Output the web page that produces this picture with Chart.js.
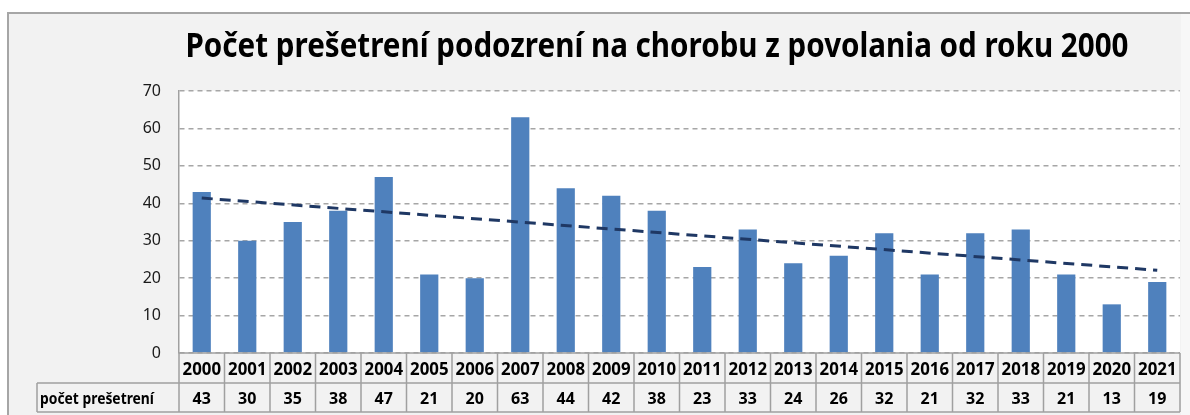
<!DOCTYPE html>
<html>
<head>
<meta charset="utf-8">
<script src="https://cdn.jsdelivr.net/npm/chart.js@4"></script>
<style>
  html, body { margin: 0; padding: 0; background: #ffffff; }
  #wrap { width: 1190px; height: 415px; position: relative; }
</style>
</head>
<body>
<div id="wrap"><canvas id="c" width="1190" height="415"></canvas></div>
<script>
const titleText = 'Počet prešetrení podozrení na chorobu z povolania od roku 2000';
const rowLabel = 'počet prešetrení';
const years = ['2000','2001','2002','2003','2004','2005','2006','2007','2008','2009','2010',
               '2011','2012','2013','2014','2015','2016','2017','2018','2019','2020','2021'];
const counts = [43,30,35,38,47,21,20,63,44,42,38,23,33,24,26,32,21,32,33,21,13,19];
// trend line end points (straight dashed line)
const trend = [41.4,null,null,null,null,null,null,null,null,null,null,
               null,null,null,null,null,null,null,null,null,null,22.1];
const yTicks = [0,10,20,30,40,50,60,70];

const FONT = "'Noto Sans', 'Liberation Sans', sans-serif";

const framePlugin = {
  id: 'frame',
  beforeDraw(chart) {
    const ctx = chart.ctx;
    const ca = chart.chartArea;
    ctx.save();
    ctx.fillStyle = '#ffffff';
    ctx.fillRect(0, 0, chart.width, chart.height);
    ctx.fillStyle = '#f2f2f2';
    ctx.fillRect(8, 13, 1173, chart.height - 13);
    ctx.fillStyle = '#f7f7f7';
    ctx.fillRect(1181, 13, chart.width - 1181, chart.height - 13);
    ctx.strokeStyle = '#a6a6a6';
    ctx.lineWidth = 2;
    ctx.beginPath();
    ctx.moveTo(8, chart.height);
    ctx.lineTo(8, 13);
    ctx.lineTo(chart.width, 13);
    ctx.stroke();
    // plot background
    ctx.fillStyle = '#ffffff';
    ctx.fillRect(ca.left, ca.top, ca.right - ca.left, ca.bottom - ca.top);
    // title
    ctx.fillStyle = '#000000';
    ctx.font = 'bold 34px ' + FONT;
    ctx.textAlign = 'center';
    ctx.textBaseline = 'alphabetic';
    ctx.fillText(titleText, 657, 57, 943);
    ctx.restore();
  },
  afterDraw(chart) {
    const ctx = chart.ctx;
    const ca = chart.chartArea;
    const xs = chart.scales.x;
    const n = years.length;
    const w = (ca.right - ca.left) / n;
    const top = ca.bottom;
    const mid = ca.bottom + 30;
    const bot = ca.bottom + 59;
    const labelLeft = 37;
    ctx.save();
    ctx.strokeStyle = '#a0a0a0';
    ctx.lineWidth = 1.5;
    ctx.beginPath();
    // horizontal lines
    ctx.moveTo(ca.left, top); ctx.lineTo(ca.right, top);
    ctx.moveTo(labelLeft, mid); ctx.lineTo(ca.right, mid);
    ctx.moveTo(labelLeft, bot); ctx.lineTo(ca.right, bot);
    // vertical lines
    for (let i = 0; i <= n; i++) {
      const x = ca.left + i * w;
      ctx.moveTo(x, top); ctx.lineTo(x, bot);
    }
    ctx.moveTo(labelLeft, mid); ctx.lineTo(labelLeft, bot);
    ctx.stroke();

    ctx.fillStyle = '#000000';
    ctx.textAlign = 'center';
    ctx.textBaseline = 'alphabetic';
    for (let i = 0; i < n; i++) {
      const cx = xs.getPixelForValue(i);
      ctx.font = 'bold 18px ' + FONT;
      ctx.fillText(years[i], cx, top + 22, w - 7);
      ctx.font = 'bold 16px ' + FONT;
      ctx.fillText(String(counts[i]), cx, mid + 21, w - 7);
    }
    ctx.textAlign = 'left';
    ctx.font = 'bold 16px ' + FONT;
    ctx.fillText(rowLabel, 40, mid + 21, 114);
    ctx.restore();
  }
};

new Chart(document.getElementById('c'), {
  type: 'bar',
  data: {
    labels: years,
    datasets: [
      {
        type: 'line',
        label: 'trend',
        data: trend,
        spanGaps: true,
        borderColor: '#1f3864',
        borderWidth: 3,
        borderDash: [11, 7],
        pointRadius: 0,
        fill: false,
        order: 0
      },
      {
        type: 'bar',
        label: rowLabel,
        data: counts,
        backgroundColor: '#4f81bd',
        borderColor: '#6a96cc',
        borderWidth: 0,
        barPercentage: 0.4,
        categoryPercentage: 1.0,
        order: 1
      }
    ]
  },
  options: {
    responsive: false,
    animation: false,
    devicePixelRatio: 1,
    layout: { padding: { left: 0, right: 10, top: 91, bottom: 62 } },
    plugins: {
      legend: { display: false },
      title: { display: false },
      tooltip: { enabled: false }
    },
    scales: {
      x: {
        type: 'category',
        display: false,
        offset: true
      },
      y: {
        min: yTicks[0],
        max: yTicks[yTicks.length - 1],
        afterFit(scale) { scale.width = 179; },
        afterBuildTicks(scale) { scale.ticks = yTicks.map(v => ({ value: v })); },
        ticks: {
          color: '#1a1a1a',
          font: { family: FONT, size: 16 },
          padding: 18
        },
        grid: {
          color: '#a6a6a6',
          lineWidth: 1.5,
          drawTicks: false
        },
        border: {
          display: true,
          color: '#a0a0a0',
          width: 1.5,
          dash: [5, 4]
        }
      }
    }
  },
  plugins: [framePlugin]
});
</script>
</body>
</html>
